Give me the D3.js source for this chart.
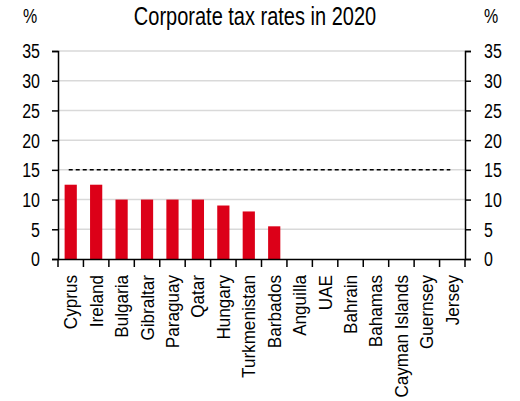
<!DOCTYPE html>
<html>
<head>
<meta charset="utf-8">
<script src="https://cdn.jsdelivr.net/npm/d3@7"></script>
<style>
  body { margin: 0; background: #fff; }
  text { font-family: "Liberation Sans", Arial, sans-serif; fill: #000; }
</style>
</head>
<body>
<div class="tax-plot"></div>
<script>
// Corporate tax rates in 2020
const countries = ["Cyprus", "Ireland", "Bulgaria", "Gibraltar", "Paraguay", "Qatar", "Hungary",
  "Turkmenistan", "Barbados", "Anguilla", "UAE", "Bahrain", "Bahamas", "Cayman Islands", "Guernsey", "Jersey"];
const rates = [12.5, 12.5, 10, 10, 10, 10, 9, 8, 5.5, 0, 0, 0, 0, 0, 0, 0];
const yTicks = [0, 5, 10, 15, 20, 25, 30, 35];
const threshold = 15;
const title = "Corporate tax rates in 2020";
const unit = "%";

const width = 520;
const height = 401;
const plotLeft = 58, plotRight = 465, plotTop = 51, plotBottom = 259;
const stretch = 1.3; // text in the original looks taller than wide

const svg = d3.select('.tax-plot')
  .append('svg')
  .attr('width', width)
  .attr('height', height)

const x = d3.scaleBand().domain(countries).range([plotLeft, plotRight]).padding(0);
const y = d3.scaleLinear().domain([0, 35]).range([plotBottom, plotTop]);

// gridlines
svg.selectAll("line.grid")
  .data(yTicks.filter(d => d > 0))
  .enter()
  .append("line")
  .attr("class", "grid")
  .attr("x1", plotLeft)
  .attr("x2", plotRight)
  .attr("y1", d => y(d))
  .attr("y2", d => y(d))
  .attr("stroke", "#d9d9d9")
  .attr("stroke-width", 1.5);

// bars
const barW = x.bandwidth() * 0.48;
svg.selectAll("rect")
  .data(countries)
  .enter()
  .append("rect")
  .attr("x", (d) => x(d) + (x.bandwidth() - barW) / 2)
  .attr("y", (d, i) => y(rates[i]))
  .attr("width", barW)
  .attr("height", (d, i) => y(0) - y(rates[i]))
  .attr("fill", "#dc0018");

// dashed reference line
svg.append("line")
  .attr("x1", x(countries[0]) + x.bandwidth() / 2 - 2)
  .attr("x2", x(countries[countries.length - 1]) + x.bandwidth() / 2 - 2)
  .attr("y1", y(threshold))
  .attr("y2", y(threshold))
  .attr("stroke", "#000")
  .attr("stroke-width", 1.5)
  .attr("stroke-dasharray", "4,3");

// axes
const yLeft = d3.axisLeft(y).tickValues(yTicks).tickSize(6).tickFormat("");
const yRight = d3.axisRight(y).tickValues(yTicks).tickSize(6).tickFormat("");
const xAxis = d3.axisBottom(x).tickSize(0).tickFormat("");

svg.append("g").attr("transform", `translate(${plotLeft},0)`).call(yLeft);
svg.append("g").attr("transform", `translate(${plotRight},0)`).call(yRight);
svg.append("g").attr("transform", `translate(0,${plotBottom})`).call(xAxis);
svg.selectAll(".domain").attr("stroke", "#000").attr("stroke-width", 1.5);
svg.selectAll(".tick line").attr("stroke", "#000").attr("stroke-width", 1.5);

// x ticks between categories
const bounds = countries.map(d => x(d)).concat([plotRight]);
svg.selectAll("line.xtick")
  .data(bounds)
  .enter()
  .append("line")
  .attr("class", "xtick")
  .attr("x1", d => d)
  .attr("x2", d => d)
  .attr("y1", plotBottom)
  .attr("y2", plotBottom + 8)
  .attr("stroke", "#000")
  .attr("stroke-width", 1.5);

// y tick labels, both sides
svg.selectAll("text.yl")
  .data(yTicks)
  .enter()
  .append("text")
  .attr("class", "yl")
  .attr("transform", d => `translate(40,${y(d)}) scale(1,${stretch})`)
  .attr("dy", "0.36em")
  .attr("text-anchor", "end")
  .attr("font-size", 16)
  .text(d => d);

svg.selectAll("text.yr")
  .data(yTicks)
  .enter()
  .append("text")
  .attr("class", "yr")
  .attr("transform", d => `translate(484,${y(d)}) scale(1,${stretch})`)
  .attr("dy", "0.36em")
  .attr("text-anchor", "start")
  .attr("font-size", 16)
  .text(d => d);

// category labels
svg.selectAll("text.cat")
  .data(countries)
  .enter()
  .append("text")
  .attr("class", "cat")
  .attr("transform", d => `translate(${x(d) + x.bandwidth() / 2},${plotBottom + 16}) scale(1,0.95) rotate(-90)`)
  .attr("dy", "0.36em")
  .attr("text-anchor", "end")
  .attr("font-size", 18)
  .text(d => d);

// title and units
svg.append("text")
  .attr("transform", `translate(255,25) scale(1,${stretch})`)
  .attr("text-anchor", "middle")
  .attr("font-size", 20)
  .text(title);

svg.append("text")
  .attr("transform", `translate(23,23) scale(1,${stretch})`)
  .attr("font-size", 16)
  .text(unit);

svg.append("text")
  .attr("transform", `translate(484,23) scale(1,${stretch})`)
  .attr("font-size", 16)
  .text(unit);
</script>
</body>
</html>
